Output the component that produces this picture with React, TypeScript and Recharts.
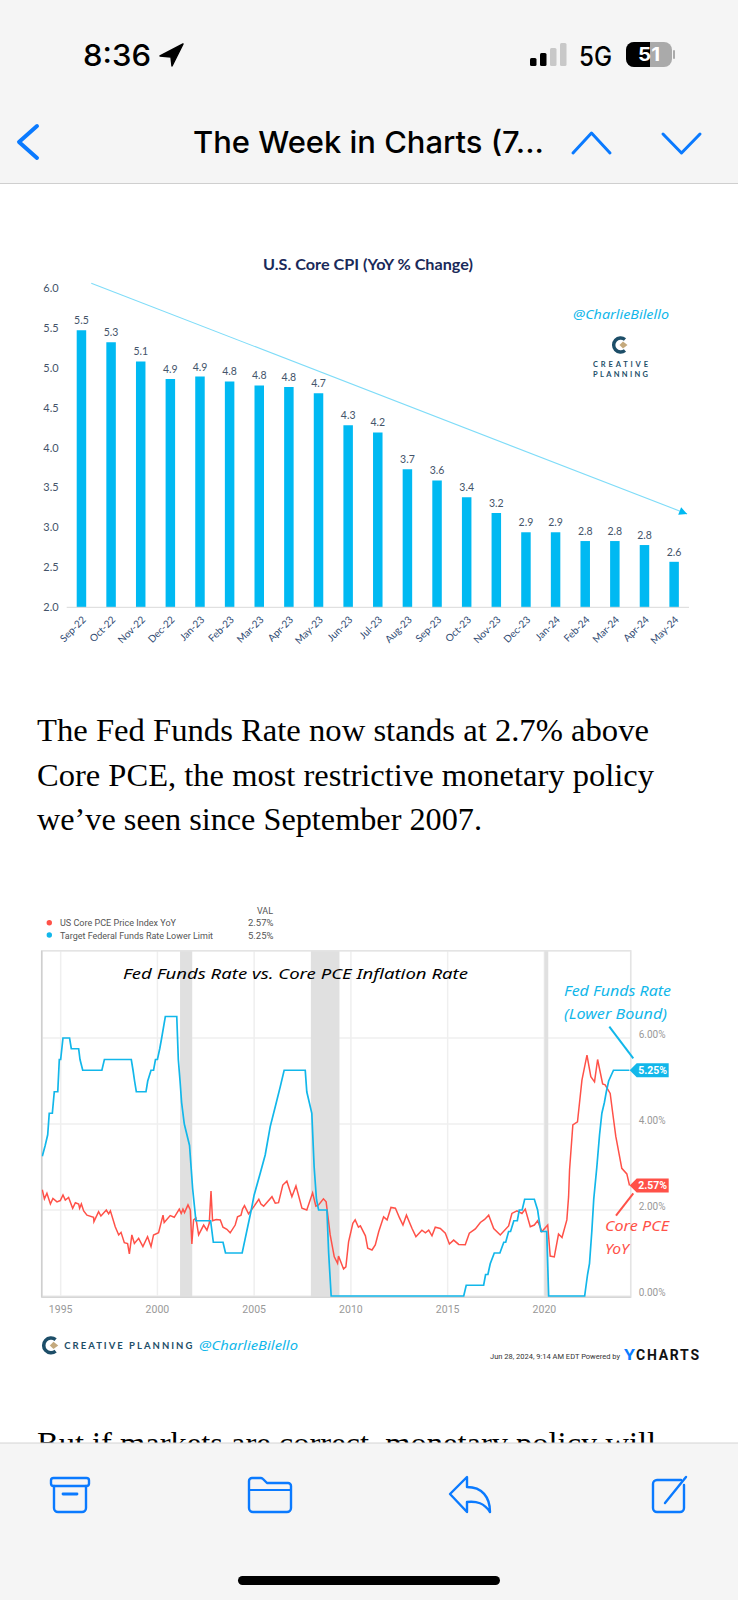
import React from "react";
import {
  BarChart,
  Bar,
  LabelList,
  LineChart,
  Line,
  XAxis,
  YAxis,
  CartesianGrid,
  ReferenceArea,
  ReferenceDot,
  ReferenceLine,
} from "recharts";

// Core CPI bars
const cpiMonths = [
  "Sep-22", "Oct-22", "Nov-22", "Dec-22", "Jan-23", "Feb-23", "Mar-23", "Apr-23", "May-23", "Jun-23", "Jul-23",
  "Aug-23", "Sep-23", "Oct-23", "Nov-23", "Dec-23", "Jan-24", "Feb-24", "Mar-24", "Apr-24", "May-24",
];
const cpiValues = [
  5.47, 5.32, 5.08, 4.86, 4.89, 4.83, 4.78, 4.76, 4.68, 4.28, 4.19, 3.73, 3.59, 3.38, 3.18, 2.94, 2.94, 2.83, 2.83,
  2.78, 2.57,
];
const cpiTicks = [2, 2.5, 3, 3.5, 4, 4.5, 5, 5.5, 6];
const cpiTrend = [
  { x: 0.79, y: 6.06 },
  { x: 19.94, y: 3.17 },
];

// Core PCE, [year, % yoy]
const pcePoints = [
  [1994.05, 2.47], [1994.16, 2.26], [1994.29, 2.39], [1994.47, 2.14], [1994.6, 2.27], [1994.81, 2.19], [1994.98, 2.22],
  [1995.12, 2.35], [1995.24, 2.23], [1995.41, 2.29], [1995.62, 2.04], [1995.76, 2.17], [1995.93, 2.14], [1995.98, 2.04],
  [1996.07, 2.14], [1996.19, 1.98], [1996.36, 1.88], [1996.7, 1.83], [1996.72, 1.73], [1996.96, 1.96], [1997.08, 1.86],
  [1997.36, 2.0], [1997.48, 1.91], [1997.57, 1.98], [1997.82, 1.61], [1998.0, 1.42], [1998.12, 1.48], [1998.29, 1.24],
  [1998.46, 1.22], [1998.55, 0.98], [1998.68, 1.42], [1998.81, 1.22], [1999.03, 1.34], [1999.25, 1.15], [1999.49, 1.38],
  [1999.67, 1.15], [1999.8, 1.42], [2000.06, 1.47], [2000.29, 1.88], [2000.35, 1.71], [2000.66, 1.87], [2000.87, 1.83],
  [2001.13, 2.02], [2001.23, 1.92], [2001.32, 2.02], [2001.4, 1.94], [2001.58, 2.12], [2001.7, 2.0], [2001.78, 1.21],
  [2001.87, 1.77], [2001.99, 1.81], [2002.13, 1.42], [2002.39, 1.65], [2002.56, 1.53], [2002.68, 1.69], [2002.77, 2.44],
  [2002.85, 1.75], [2003.04, 1.78], [2003.25, 1.77], [2003.39, 1.6], [2003.59, 1.55], [2003.76, 1.47], [2004.02, 1.65],
  [2004.14, 1.84], [2004.32, 1.88], [2004.4, 2.02], [2004.5, 2.1], [2004.71, 1.91], [2005.0, 2.09], [2005.24, 2.25],
  [2005.35, 2.14], [2005.49, 2.09], [2005.92, 2.31], [2006.09, 2.16], [2006.26, 2.17], [2006.48, 2.58], [2006.69, 2.67],
  [2006.95, 2.31], [2007.16, 2.56], [2007.47, 2.04], [2007.72, 2.0], [2008.02, 2.4], [2008.19, 2.09], [2008.33, 2.12],
  [2008.58, 2.26], [2008.72, 2.19], [2008.93, 1.42], [2009.14, 0.91], [2009.31, 0.76], [2009.36, 0.93], [2009.62, 0.63],
  [2009.74, 0.68], [2009.88, 1.26], [2010.1, 1.69], [2010.22, 1.77], [2010.39, 1.6], [2010.49, 1.63], [2010.75, 1.4],
  [2010.87, 1.11], [2011.09, 1.07], [2011.26, 1.19], [2011.44, 1.5], [2011.69, 1.84], [2011.87, 1.77], [2012.07, 2.06],
  [2012.3, 2.04], [2012.52, 1.81], [2012.69, 1.65], [2012.87, 1.88], [2013.16, 1.57], [2013.36, 1.38], [2013.67, 1.53],
  [2013.85, 1.47], [2014.02, 1.53], [2014.19, 1.4], [2014.36, 1.6], [2014.62, 1.57], [2014.88, 1.46], [2015.09, 1.21],
  [2015.31, 1.3], [2015.57, 1.2], [2015.91, 1.19], [2016.12, 1.46], [2016.43, 1.56], [2016.69, 1.71], [2016.91, 1.78],
  [2017.12, 1.88], [2017.38, 1.57], [2017.72, 1.42], [2018.15, 1.63], [2018.32, 1.92], [2018.58, 1.98], [2018.84, 1.92],
  [2019.01, 2.02], [2019.27, 1.61], [2019.48, 1.65], [2019.65, 1.75], [2019.87, 1.5], [2020.17, 1.65], [2020.3, 0.93],
  [2020.51, 0.91], [2020.73, 1.44], [2020.91, 1.36], [2021.16, 1.77], [2021.25, 2.31], [2021.3, 2.93], [2021.47, 3.98],
  [2021.71, 4.05], [2021.94, 5.02], [2022.2, 5.6], [2022.4, 5.1], [2022.59, 4.98], [2022.75, 5.5], [2023.01, 4.93],
  [2023.14, 4.91], [2023.4, 4.71], [2023.52, 4.29], [2023.69, 3.71], [2024.0, 2.97], [2024.26, 2.84], [2024.4, 2.57],
];

// Fed funds lower bound, [year, %]
const fedPoints = [
  [1994.05, 3.25], [1994.2, 3.5], [1994.33, 3.75], [1994.41, 4.25], [1994.57, 4.25], [1994.67, 4.75], [1994.85, 4.75],
  [1994.93, 5.5], [1995.0, 5.5], [1995.12, 6.0], [1995.46, 6.0], [1995.55, 5.75], [1995.93, 5.75], [1996.0, 5.5],
  [1996.14, 5.25], [1997.13, 5.25], [1997.26, 5.5], [1998.65, 5.5], [1998.74, 5.25], [1998.82, 5.0], [1998.91, 4.75],
  [1999.41, 4.75], [1999.5, 5.0], [1999.67, 5.25], [1999.8, 5.25], [1999.9, 5.5], [2000.0, 5.5], [2000.12, 5.75],
  [2000.22, 6.0], [2000.41, 6.5], [2001.0, 6.5], [2001.08, 5.5], [2001.17, 5.0], [2001.25, 4.5], [2001.39, 4.0],
  [2001.66, 3.5], [2001.82, 2.5], [2001.99, 1.75], [2002.75, 1.75], [2002.89, 1.25], [2003.39, 1.25], [2003.52, 1.0],
  [2004.38, 1.0], [2004.85, 2.0], [2005.0, 2.35], [2005.31, 2.85], [2005.57, 3.28], [2005.83, 3.94], [2006.09, 4.4],
  [2006.35, 4.87], [2006.55, 5.25],
  [2007.64, 5.25], [2007.72, 4.75], [2007.98, 4.25], [2008.1, 3.0], [2008.22, 2.25], [2008.33, 2.0],
  [2008.76, 2.0], [2008.85, 1.0], [2008.98, 0], [2015.83, 0], [2015.96, 0.25], [2016.86, 0.25], [2016.96, 0.5],
  [2017.08, 0.5], [2017.2, 0.75], [2017.41, 1.0], [2017.7, 1.0], [2017.9, 1.25], [2018.0, 1.25], [2018.15, 1.5],
  [2018.25, 1.5], [2018.42, 1.75], [2018.6, 1.75], [2018.7, 2.0], [2018.85, 2.0], [2018.98, 2.25], [2019.48, 2.25],
  [2019.65, 2.0], [2019.73, 1.75], [2019.82, 1.5], [2020.12, 1.5], [2020.22, 0], [2022.08, 0], [2022.23, 0.5],
  [2022.33, 0.75], [2022.45, 1.5], [2022.55, 2.25], [2022.71, 3.0], [2022.85, 3.75], [2022.97, 4.25], [2023.1, 4.5],
  [2023.2, 4.75], [2023.32, 5.0], [2023.57, 5.25], [2024.39, 5.25],
];

const yearTicks = [1995, 2000, 2005, 2010, 2015, 2020];
const rateTicks = [0, 2, 4, 6];
const recessions = [
  [2001.17, 2001.8],
  [2007.93, 2009.41],
  [2020.0, 2020.2],
];
const latestPce = 2.57;
const latestFed = 5.25;

const cpiData = cpiMonths.map((month, i) => ({ month, value: cpiValues[i] }));
const toSeries = (pts: number[][]) => pts.map(([year, value]) => ({ year, value }));

const NAVY = "#44546a";
const SKY = "#00b9f2";
const CYAN = "#12b7ea";
const RED = "#ff5148";
const IOS_BLUE = "#0a7aff";
const TEAL = "#1d4e68";
const HAND = "'Noto Sans', sans-serif";

// trend arrow over the bars
function TrendArrow(props: any) {
  const { x1, y1, x2, y2 } = props;
  const deg = (Math.atan2(y2 - y1, x2 - x1) * 180) / Math.PI;
  return (
    <g>
      <line x1={x1} y1={y1} x2={x2} y2={y2} stroke="#7fdcf8" strokeWidth={1.1} />
      <polygon points="0,0 -8,-4 -8,4" fill={SKY} transform={`translate(${x2} ${y2}) rotate(${deg})`} />
    </g>
  );
}

function ValueTag({ cx, cy, fill, text }: any) {
  return (
    <g>
      <polygon
        points={`${cx - 1},${cy} ${cx + 6},${cy - 7} ${cx + 38},${cy - 7} ${cx + 38},${cy + 7} ${cx + 6},${cy + 7}`}
        fill={fill}
      />
      <text x={cx + 22} y={cy + 3.5} textAnchor="middle" fontSize={10.5} fontWeight={700} fill="#fff" fontFamily="Roboto">
        {text}
      </text>
    </g>
  );
}

function CpiChart() {
  return (
    <div style={{ position: "absolute", left: 0, top: 270 }}>
      <BarChart width={738} height={400} data={cpiData} margin={{ top: 18, right: 49, left: 36.7, bottom: 0 }}>
        <XAxis
          dataKey="month"
          interval={0}
          height={62.7}
          angle={-45}
          textAnchor="end"
          tickLine={false}
          tick={{ fontSize: 10, fill: "#2f4a72", fontFamily: "Lato" }}
          axisLine={{ stroke: "#d9d9d9" }}
        />
        <XAxis xAxisId="trend" type="number" domain={[0, 20]} allowDataOverflow hide />
        <YAxis
          width={30}
          domain={[2, 6]}
          ticks={cpiTicks}
          tickFormatter={(v: number) => v.toFixed(1)}
          axisLine={false}
          tickLine={false}
          tick={{ fontSize: 11, fill: NAVY, fontFamily: "Lato" }}
        />
        <Bar dataKey="value" fill={SKY} barSize={9.5} isAnimationActive={false}>
          <LabelList
            dataKey="value"
            position="top"
            offset={6}
            formatter={(v: number) => v.toFixed(1)}
            style={{ fontSize: 10.5, fill: NAVY, fontFamily: "Lato" }}
          />
        </Bar>
        <ReferenceLine xAxisId="trend" segment={cpiTrend} ifOverflow="visible" shape={TrendArrow} />
      </BarChart>
    </div>
  );
}

function RateChart() {
  return (
    <div style={{ position: "absolute", left: 0, top: 940 }}>
      <LineChart width={738} height={400} margin={{ top: 10.7, right: 67.3, left: 41.7, bottom: 12.7 }}>
        <CartesianGrid stroke="#efefef" strokeWidth={1.5} />
        <XAxis
          dataKey="year"
          type="number"
          domain={[1994.02, 2024.46]}
          ticks={yearTicks}
          allowDataOverflow
          height={30}
          axisLine={false}
          tickLine={false}
          tick={{ fontSize: 10.5, fill: "#999", fontFamily: "Roboto" }}
        />
        <YAxis
          orientation="right"
          width={40}
          domain={[-0.03, 8.03]}
          ticks={rateTicks}
          tickFormatter={(v: number) => `${v.toFixed(2)}%`}
          axisLine={false}
          tickLine={false}
          tick={{ fontSize: 10, fill: "#999", fontFamily: "Roboto", dy: -4 }}
        />
        {recessions.map(([start, end]) => (
          <ReferenceArea key={start} x1={start} x2={end} fill="#e0e0e0" fillOpacity={1} stroke="none" />
        ))}
        <ReferenceArea
          x1={1994.02}
          x2={2024.46}
          y1={-0.03}
          y2={8.03}
          fill="none"
          stroke="#e4e4e4"
          strokeWidth={1.5}
          ifOverflow="visible"
        />
        <ReferenceLine x={1994.02} stroke="#cfcfcf" strokeWidth={1.5} ifOverflow="visible" />
        <ReferenceLine y={-0.03} stroke="#d6d6d6" strokeWidth={1.5} ifOverflow="visible" />
        <Line
          data={toSeries(pcePoints)}
          dataKey="value"
          type="linear"
          stroke={RED}
          strokeWidth={1.5}
          dot={false}
          isAnimationActive={false}
        />
        <Line
          data={toSeries(fedPoints)}
          dataKey="value"
          type="linear"
          stroke={CYAN}
          strokeWidth={1.7}
          dot={false}
          isAnimationActive={false}
        />
        <ReferenceDot
          x={2024.46}
          y={latestFed}
          ifOverflow="visible"
          shape={(p: any) => <ValueTag {...p} fill={CYAN} text={`${latestFed.toFixed(2)}%`} />}
        />
        <ReferenceDot
          x={2024.46}
          y={latestPce}
          ifOverflow="visible"
          shape={(p: any) => <ValueTag {...p} fill={RED} text={`${latestPce.toFixed(2)}%`} />}
        />
      </LineChart>
    </div>
  );
}

// fitted text, sizes come from the screenshot
function T({ x, y, w, size, color = "#000", family = "Inter", weight = 400, anchor, italic, spaced, children }: any) {
  return (
    <text
      x={x}
      y={y}
      fontSize={size}
      fill={color}
      fontFamily={family}
      fontWeight={weight}
      fontStyle={italic ? "italic" : undefined}
      textAnchor={anchor}
      textLength={w}
      lengthAdjust={w ? (spaced ? "spacing" : "spacingAndGlyphs") : undefined}
    >
      {children}
    </text>
  );
}

function Logo({ x, y, s }: any) {
  return (
    <g transform={`translate(${x} ${y}) scale(${s})`}>
      <path d="M12 2.5 A7 7 0 1 0 12 13.5" fill="none" stroke={TEAL} strokeWidth={3.4} />
      <polygon points="10,4.5 14.5,8 10,11.5 6.5,8" fill="#c4a97d" />
    </g>
  );
}

function Phone() {
  return (
    <svg
      width={738}
      height={1600}
      style={{ position: "absolute", left: 0, top: 0, pointerEvents: "none" }}
    >
      {/* article text */}
      <g>
        <T x={37} y={741} w={612} size={31} family="Liberation Serif">The Fed Funds Rate now stands at 2.7% above</T>
        <T x={37} y={786} w={617} size={31} family="Liberation Serif">Core PCE, the most restrictive monetary policy</T>
        <T x={37} y={830} w={445} size={31} family="Liberation Serif">we’ve seen since September 2007.</T>
        <T x={37} y={1454} w={619} size={31} family="Liberation Serif">But if markets are correct, monetary policy will</T>
      </g>

      {/* header */}
      <rect x={0} y={0} width={738} height={183} fill="#f5f5f5" />
      <line x1={0} x2={738} y1={183.5} y2={183.5} stroke="#cfcfcf" />
      <T x={83} y={66} w={68} size={30} weight={500}>8:36</T>
      <polygon points="183,44 160,56 171,57 172,66" fill="#000" stroke="#000" strokeWidth={1.5} strokeLinejoin="round" />
      {[0, 1, 2, 3].map((i) => (
        <rect
          key={i}
          x={530 + i * 10}
          y={58 - i * 5}
          width={6.5}
          height={8 + i * 5}
          rx={1.5}
          fill={i < 2 ? "#000" : "#c8c8c8"}
        />
      ))}
      <T x={579} y={66} w={33} size={27} weight={500}>5G</T>
      <rect x={626} y={42} width={46} height={25} rx={8} fill="#aaa" />
      <path d="M650 42 H634 a8 8 0 0 0 -8 8 V59 a8 8 0 0 0 8 8 H650 Z" fill="#000" />
      <rect x={673} y={50} width={2} height={9} rx={1} fill="#aaa" />
      <T x={638} y={61} w={22} size={19} weight={700} color="#fff">51</T>
      <T x={193} y={153} w={351} size={30} weight={500}>The Week in Charts (7...</T>
      <g fill="none" stroke={IOS_BLUE} strokeLinecap="round" strokeLinejoin="round">
        <path d="M37 126 L19 142 L37 158" strokeWidth={4} />
        <path d="M573 153 L591.5 133 L610 153" strokeWidth={3} />
        <path d="M663 134 L681.5 153 L700 134" strokeWidth={3} />
      </g>

      {/* CPI chart furniture */}
      <T x={263} y={270} w={210} size={16} weight={700} family="Lato" color="#1a2a5a">U.S. Core CPI (YoY % Change)</T>
      <T x={573} y={319} w={96} size={13} italic family={HAND} color={CYAN}>@CharlieBilello</T>
      <Logo x={613} y={337} s={1} />
      <T x={593} y={367} w={55} size={7.5} weight={700} spaced family="Lato" color={TEAL}>CREATIVE</T>
      <T x={593} y={377} w={55} size={7.5} weight={700} spaced family="Lato" color={TEAL}>PLANNING</T>

      {/* rate chart legend */}
      <T x={273} y={914} size={9} family="Roboto" color="#555" anchor="end">VAL</T>
      <circle cx={49.3} cy={922.7} r={2.7} fill={RED} />
      <T x={60} y={926} w={116} size={9.5} family="Roboto" color="#555">US Core PCE Price Index YoY</T>
      <T x={273.5} y={926} size={9.5} family="Roboto" color="#555" anchor="end">2.57%</T>
      <circle cx={49.3} cy={935} r={2.7} fill={CYAN} />
      <T x={60} y={938.5} w={153} size={9.5} family="Roboto" color="#555">Target Federal Funds Rate Lower Limit</T>
      <T x={273.5} y={938.5} size={9.5} family="Roboto" color="#555" anchor="end">5.25%</T>

      {/* handwritten notes */}
      <T x={123} y={979} w={345} size={15} italic family={HAND}>Fed Funds Rate vs. Core PCE Inflation Rate</T>
      <T x={564} y={996} w={107} size={14} italic family={HAND} color={CYAN}>Fed Funds Rate</T>
      <T x={564} y={1019} w={103} size={14} italic family={HAND} color={CYAN}>(Lower Bound)</T>
      <line x1={609.3} y1={1026.7} x2={633.3} y2={1058.3} stroke={CYAN} strokeWidth={2} />
      <T x={605} y={1231} w={64} size={15} italic family={HAND} color={RED}>Core PCE</T>
      <T x={605} y={1254} w={24} size={15} italic family={HAND} color={RED}>YoY</T>
      <line x1={616} y1={1215.7} x2={633.3} y2={1193.3} stroke={RED} strokeWidth={2} />

      {/* rate chart footer */}
      <Logo x={43} y={1337} s={1.05} />
      <T x={64.3} y={1349} w={128} size={9.5} weight={700} spaced family="Lato" color={TEAL}>CREATIVE PLANNING</T>
      <T x={199} y={1349.5} w={99} size={13} italic family={HAND} color={CYAN}>@CharlieBilello</T>
      <T x={490} y={1358.5} w={130} size={8} family="Roboto" color="#333">Jun 28, 2024, 9:14 AM EDT Powered by</T>
      <T x={624} y={1360} w={11} size={14} weight={700} family="Roboto" color="#0a7dff">Y</T>
      <T x={636} y={1360} w={63} size={14} weight={700} spaced family="Roboto" color="#111">CHARTS</T>

      {/* toolbar */}
      <rect x={0} y={1443} width={738} height={157} fill="#f5f5f5" />
      <line x1={0} x2={738} y1={1443} y2={1443} stroke="#d4d4d4" />
      <g fill="none" stroke={IOS_BLUE} strokeWidth={2.4} strokeLinejoin="round" strokeLinecap="round">
        <rect x={51} y={1478} width={38} height={8} rx={2.5} />
        <path d="M54 1486 V1508 a4 4 0 0 0 4 4 H82 a4 4 0 0 0 4 -4 V1486" />
        <line x1={63} x2={77} y1={1494} y2={1494} strokeWidth={2.8} />
        <path d="M249 1508 V1481 a3 3 0 0 1 3 -3 h9 a3 3 0 0 1 2 1 l4 4 H288 a3 3 0 0 1 3 3 V1508 a4 4 0 0 1 -4 4 H253 a4 4 0 0 1 -4 -4 Z" />
        <line x1={249} x2={291} y1={1490} y2={1490} strokeWidth={2} />
        <path d="M450 1494 L467 1477 V1487 C482 1487 490 1497 490 1512 C484 1503 477 1501 467 1502 V1512 Z" />
        <path d="M681 1480 H657 a4 4 0 0 0 -4 4 V1508 a4 4 0 0 0 4 4 H680 a4 4 0 0 0 4 -4 V1485" />
        <line x1={665} y1={1503} x2={686} y2={1477} />
      </g>
      <rect x={238} y={1576} width={262} height={9} rx={4.5} fill="#000" />
    </svg>
  );
}

export default function App() {
  return (
    <div style={{ position: "absolute", left: 0, top: 0, width: 738, height: 1600, overflow: "hidden", background: "#fff" }}>
      <CpiChart />
      <RateChart />
      <Phone />
    </div>
  );
}
